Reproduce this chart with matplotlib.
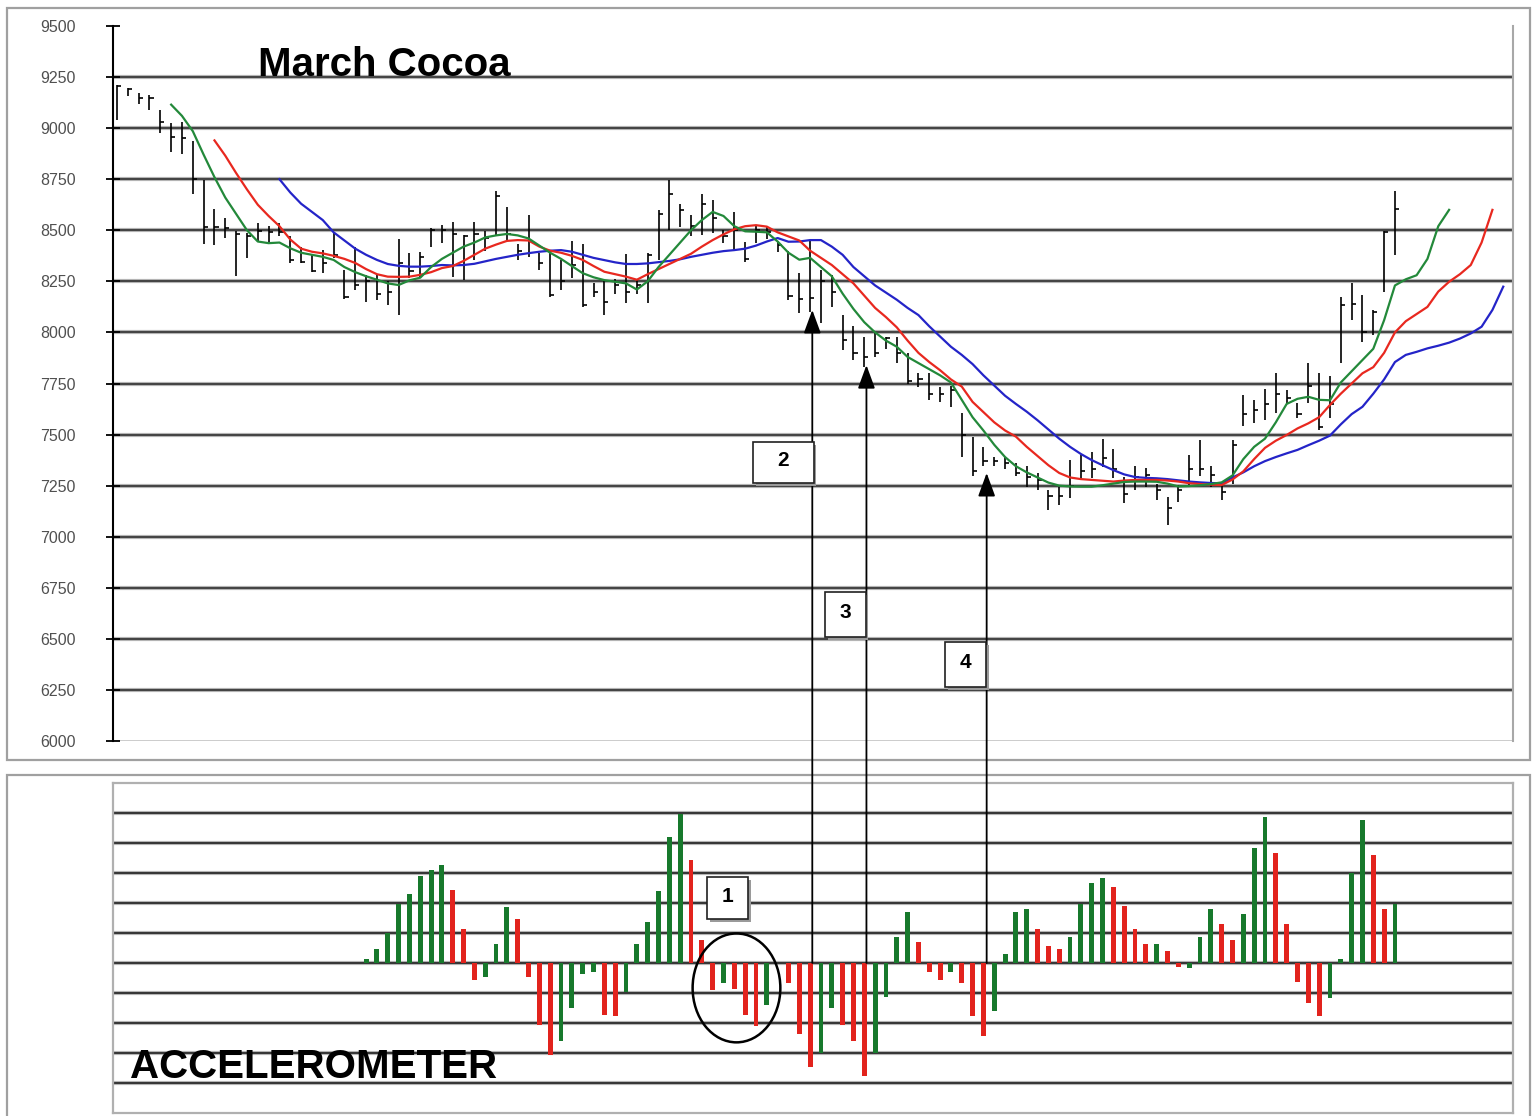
import numpy as np
import matplotlib.pyplot as plt
from matplotlib.patches import Rectangle, Ellipse, ConnectionPatch, ArrowStyle

plt.rcParams['font.family'] = ['Liberation Sans', 'DejaVu Sans']

W, H = 1535, 1116

# daily bars (high / low / close), one per session
high = [9210, 9195, 9170, 9160, 9090, 9025, 9030, 8935, 8745, 8605,
        8560, 8495, 8485, 8535, 8520, 8535, 8470, 8420, 8380, 8405,
        8485, 8305, 8420, 8280, 8280, 8250, 8455, 8390, 8395, 8510,
        8525, 8540, 8475, 8540, 8495, 8690, 8615, 8435, 8575, 8390,
        8405, 8355, 8450, 8435, 8240, 8255, 8260, 8385, 8260, 8390,
        8600, 8745, 8630, 8575, 8680, 8650, 8500, 8590, 8445, 8520,
        8520, 8450, 8400, 8290, 8450, 8305, 8280, 8085, 8030, 7980,
        7995, 7980, 7980, 7900, 7800, 7800, 7735, 7740, 7605, 7490,
        7440, 7390, 7390, 7360, 7345, 7310, 7230, 7245, 7375, 7400,
        7415, 7480, 7430, 7290, 7345, 7335, 7260, 7195, 7255, 7400,
        7475, 7345, 7260, 7475, 7695, 7670, 7725, 7800, 7720, 7655,
        7850, 7800, 7785, 8175, 8240, 8185, 8110, 8495, 8690]
low = [9040, 9155, 9120, 9090, 8975, 8885, 8875, 8680, 8435, 8430,
       8460, 8275, 8365, 8450, 8445, 8470, 8340, 8340, 8295, 8290,
       8365, 8165, 8210, 8150, 8160, 8135, 8085, 8265, 8265, 8420,
       8440, 8270, 8255, 8355, 8400, 8470, 8450, 8355, 8370, 8305,
       8175, 8210, 8265, 8125, 8175, 8085, 8190, 8145, 8190, 8145,
       8355, 8500, 8515, 8470, 8475, 8485, 8440, 8405, 8345, 8440,
       8455, 8395, 8160, 8095, 8100, 8045, 8125, 7915, 7865, 7830,
       7880, 7920, 7850, 7750, 7735, 7670, 7660, 7635, 7390, 7295,
       7345, 7345, 7330, 7295, 7245, 7230, 7130, 7155, 7190, 7280,
       7285, 7340, 7285, 7165, 7230, 7245, 7180, 7055, 7170, 7245,
       7295, 7245, 7180, 7260, 7540, 7555, 7570, 7605, 7650, 7580,
       7655, 7520, 7580, 7850, 8060, 7955, 7985, 8200, 8380]
close = [9205, 9190, 9150, 9150, 9030, 8955, 8950, 8750, 8515, 8515,
         8510, 8480, 8470, 8495, 8490, 8490, 8355, 8345, 8300, 8340,
         8380, 8175, 8230, 8250, 8190, 8200, 8340, 8300, 8370, 8500,
         8500, 8480, 8470, 8480, 8460, 8670, 8480, 8400, 8450, 8340,
         8185, 8250, 8330, 8135, 8200, 8150, 8230, 8200, 8230, 8380,
         8580, 8680, 8600, 8520, 8630, 8560, 8470, 8500, 8360, 8500,
         8490, 8430, 8180, 8165, 8170, 8250, 8200, 7965, 7900, 7880,
         7900, 7975, 7900, 7760, 7770, 7700, 7700, 7720, 7500, 7320,
         7370, 7370, 7360, 7310, 7290, 7280, 7200, 7200, 7250, 7320,
         7330, 7385, 7330, 7210, 7290, 7300, 7230, 7140, 7230, 7330,
         7330, 7300, 7220, 7450, 7600, 7620, 7650, 7700, 7680, 7600,
         7740, 7535, 7650, 8135, 8140, 8000, 8100, 8490, 8605]

# displaced moving averages, first value sits at bar index *_start
green_start, red_start, blue_start = 5, 9, 15
green_ma = [9115, 9060, 8985, 8870, 8760, 8660, 8580, 8500, 8445, 8437,
            8440, 8412, 8390, 8380, 8370, 8355, 8320, 8295, 8275, 8258,
            8240, 8232, 8255, 8268, 8320, 8360, 8390, 8420, 8440, 8465,
            8475, 8482, 8475, 8460, 8425, 8390, 8360, 8325, 8290, 8270,
            8256, 8248, 8240, 8210, 8250, 8320, 8380, 8440, 8500, 8550,
            8590, 8570, 8520, 8495, 8493, 8490, 8445, 8390, 8356, 8365,
            8320, 8275, 8190, 8115, 8050, 8000, 7960, 7930, 7880, 7850,
            7820, 7790, 7755, 7670, 7585, 7520, 7450, 7390, 7345, 7315,
            7290, 7265, 7250, 7246, 7245, 7245, 7252, 7260, 7268, 7270,
            7270, 7269, 7260, 7246, 7248, 7252, 7258, 7266, 7300, 7380,
            7440, 7480, 7560, 7650, 7675, 7685, 7670, 7668, 7755, 7810,
            7865, 7920, 8060, 8230, 8260, 8280, 8360, 8520, 8600]
red_ma = [8940, 8865, 8780, 8700, 8625, 8570, 8520, 8455, 8410, 8395,
          8387, 8375, 8360, 8340, 8310, 8285, 8273, 8272, 8273, 8282,
          8295, 8315, 8325, 8350, 8380, 8410, 8430, 8448, 8452, 8450,
          8420, 8400, 8390, 8375, 8355, 8325, 8297, 8285, 8273, 8258,
          8285, 8310, 8335, 8360, 8385, 8420, 8452, 8480, 8505, 8520,
          8525, 8518, 8490, 8470, 8450, 8400, 8365, 8330, 8285, 8240,
          8180, 8120, 8075, 8025, 7960, 7900, 7855, 7815, 7770, 7735,
          7660, 7610, 7560, 7520, 7490, 7440, 7395, 7350, 7312, 7290,
          7282, 7278, 7274, 7270, 7275, 7278, 7278, 7278, 7275, 7270,
          7262, 7258, 7255, 7253, 7280, 7320, 7380, 7435, 7470, 7498,
          7530, 7555, 7585, 7645, 7700, 7750, 7800, 7830, 7900, 8000,
          8055, 8090, 8125, 8200, 8248, 8285, 8330, 8440, 8600]
blue_ma = [8750, 8685, 8630, 8590, 8550, 8490, 8450, 8410, 8380, 8355,
           8335, 8326, 8322, 8322, 8325, 8330, 8328, 8330, 8336, 8348,
           8360, 8370, 8380, 8388, 8395, 8400, 8403, 8395, 8380, 8365,
           8354, 8343, 8335, 8335, 8338, 8344, 8350, 8358, 8370, 8380,
           8390, 8398, 8403, 8410, 8425, 8445, 8462, 8444, 8445, 8452,
           8452, 8420, 8380, 8320, 8275, 8230, 8195, 8160, 8120, 8085,
           8030, 7980, 7930, 7890, 7845, 7790, 7740, 7690, 7650, 7612,
           7570, 7525, 7480, 7440, 7405, 7375, 7350, 7326, 7305, 7292,
           7288, 7286, 7282, 7276, 7270, 7266, 7263, 7261, 7290, 7315,
           7345, 7370, 7390, 7408, 7425, 7448, 7470, 7495, 7550, 7600,
           7636, 7700, 7770, 7855, 7890, 7905, 7922, 7935, 7950, 7970,
           7995, 8028, 8110, 8224]

# accelerometer histogram, starts at bar 23
accel_start = 23
accel = [0.14, 0.47, 1.0, 1.98, 2.3, 2.9, 3.1, 3.27, 2.45, 1.13,
         -0.57, -0.48, 0.64, 1.87, 1.46, -0.48, -2.05, -3.08, -2.6, -1.5,
         -0.37, -0.3, -1.73, -1.78, -0.96, 0.64, 1.38, 2.4, 4.2, 4.98,
         3.44, 0.77, -0.9, -0.68, -0.85, -1.73, -2.1, -1.4, 0.0, -0.68,
         -2.38, -3.48, -2.99, -1.5, -2.05, -2.6, -3.76, -2.99, -1.12, 0.88,
         1.7, 0.69, -0.3, -0.57, -0.3, -0.65, -1.78, -2.44, -1.6, 0.31,
         1.7, 1.79, 1.15, 0.56, 0.47, 0.88, 1.98, 2.67, 2.84, 2.54,
         1.9, 1.13, 0.62, 0.62, 0.4, -0.13, -0.15, 0.88, 1.79, 1.3,
         0.77, 1.63, 3.85, 4.87, 3.68, 1.3, -0.63, -1.34, -1.78, -1.18,
         0.14, 3.0, 4.76, 3.6, 1.79, 1.98]
accel_col = ('GGGGGGGGRR' 'RGGGRRRRGG' 'GGRRGGGGGG' 'RRRGRRRGRR' 'RRGGRRRGGG'
             'GRRRGRRRGG' 'GGRRRGGGGR' 'RRRGRRGGGR' 'RGGGRRRRRG' 'GGGRRG')

# signal arrows: bar position, price at arrow tip, label
arrow_bars = [64.2, 69.2, 80.3]
arrow_tips = [8110, 7840, 7312]

GREEN = '#17792c'
RED = '#e2231d'


def fx(x):
    return x / W


def fy(y):
    return 1 - y / H


fig = plt.figure(figsize=(W / 100, H / 100), dpi=100)

# panel frames
for (x0, y0, x1, y1) in [(7, 8, 1530, 760), (7, 775, 1530, 1125)]:
    fig.add_artist(Rectangle((fx(x0), fy(y1)), fx(x1) - fx(x0), fy(y0) - fy(y1),
                             transform=fig.transFigure, fill=False,
                             ec='#a0a0a0', lw=1.6, zorder=0))

# ---------------- price panel
ax = fig.add_axes([fx(113), fy(741), 1400 / W, 715 / H])
ax.set_xlim(-0.37, 128.9)
ax.set_ylim(6000, 9500)
for v in range(6250, 9500, 250):
    ax.axhline(v, color='#b4b4b4', lw=3.0, zorder=1)
    ax.axhline(v, color='#3a3a3a', lw=1.3, zorder=1.1)
ax.axhline(6000, color='#bdbdbd', lw=1.8, zorder=1)
for s in ['top', 'bottom']:
    ax.spines[s].set_visible(False)
ax.spines['left'].set_linewidth(1.5)
ax.spines['right'].set_color('#a8a8a8')
ax.spines['right'].set_linewidth(1.5)
ax.set_xticks([])
ticks = list(range(6000, 9501, 250))
ax.set_yticks(ticks)
ax.set_yticklabels([str(t) for t in ticks])
ax.tick_params(axis='y', direction='inout', length=10, width=1.3,
               labelsize=11.5, labelcolor='#505050', pad=22)

j = np.arange(len(high))
ax.vlines(j, low, high, color='k', lw=1.2, zorder=3)
ax.hlines(close, j, j + 0.38, color='k', lw=1.2, zorder=3)

ax.plot(np.arange(len(blue_ma)) + blue_start, blue_ma, color='#2424c8', lw=1.6, zorder=4)
ax.plot(np.arange(len(red_ma)) + red_start, red_ma, color='#e8281f', lw=1.6, zorder=4)
ax.plot(np.arange(len(green_ma)) + green_start, green_ma, color='#23893a', lw=1.6, zorder=4)

fig.text(fx(258), fy(76), 'March Cocoa', fontsize=29, fontweight='bold',
         va='baseline', ha='left')

# ---------------- accelerometer panel
ax2 = fig.add_axes([fx(113), fy(1113), 1400 / W, 330 / H])
ax2.set_xlim(-0.37, 128.9)
ax2.set_ylim(-5, 6)
for v in range(-4, 6):
    ax2.axhline(v, color='#b4b4b4', lw=3.0, zorder=1)
    ax2.axhline(v, color='#2a2a2a', lw=1.3, zorder=1.1)
for s in ax2.spines.values():
    s.set_color('#b0b0b0')
    s.set_linewidth(1.6)
ax2.set_xticks([])
ax2.set_yticks([])

k = np.arange(len(accel)) + accel_start
cols = [GREEN if c == 'G' else RED for c in accel_col]
ax2.bar(k, accel, width=0.45, color=cols, zorder=3)

fig.text(fx(130), fy(1078), 'ACCELEROMETER', fontsize=29, fontweight='bold',
         va='baseline', ha='left')

ax2.add_patch(Ellipse((57.2, -0.83), 8.1, 3.63, fill=False, ec='k', lw=1.8, zorder=5))

# arrows from the zero line up to the price bars
style = ArrowStyle('-|>', head_length=0.6, head_width=0.22)
for xb, tip in zip(arrow_bars, arrow_tips):
    con = ConnectionPatch(xyA=(xb, 0), coordsA=ax2.transData,
                          xyB=(xb, tip), coordsB=ax.transData,
                          arrowstyle=style, mutation_scale=24,
                          color='k', lw=1.3, zorder=6)
    fig.add_artist(con)

# numbered boxes
boxes = [('1', 707, 877, 748, 919), ('2', 753, 442, 814, 483),
         ('3', 825, 592, 866, 637), ('4', 945, 642, 986, 687)]
for lab, x0, y0, x1, y1 in boxes:
    fig.add_artist(Rectangle((fx(x0) + 2.5 / W, fy(y1) - 2.5 / H), fx(x1) - fx(x0),
                             fy(y0) - fy(y1), transform=fig.transFigure,
                             fc='#9a9a9a', ec='none', zorder=7))
    fig.add_artist(Rectangle((fx(x0), fy(y1)), fx(x1) - fx(x0), fy(y0) - fy(y1),
                             transform=fig.transFigure, fc='white', ec='#202020',
                             lw=1.2, zorder=8))
    fig.text(fx((x0 + x1) / 2), fy((y0 + y1) / 2 - 2), lab, fontsize=15,
             fontweight='bold', ha='center', va='center', zorder=9)

fig.savefig('out.png', dpi=100)
